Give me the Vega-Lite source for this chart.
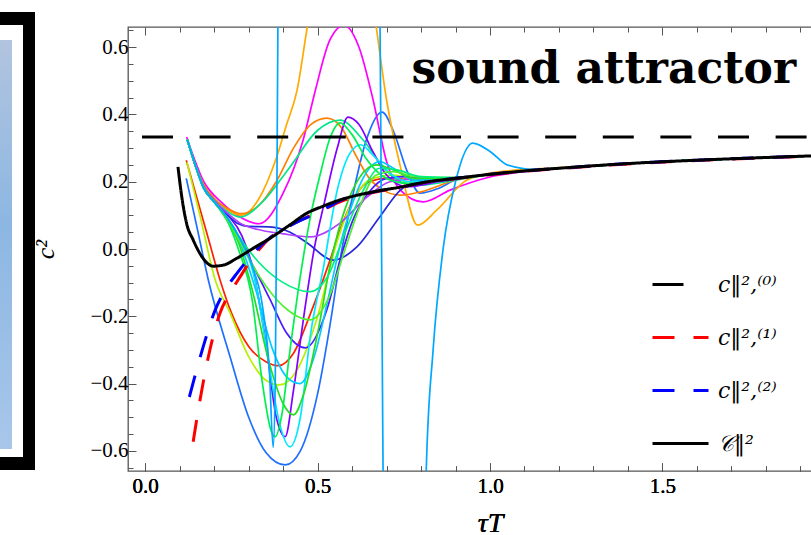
{
"$schema":"https://vega.github.io/schema/vega-lite/v6.json",
"padding":{"left":0,"top":12,"right":0,"bottom":0},
"background":"white",
"bounds":"flush",
"spacing":93,
"datasets":{
"frame":[{"part":"outer","x0":0,"x1":35,"y0":-15,"y1":443},{"part":"inner","x0":0,"x1":23,"y0":-2,"y1":430},{"part":"photo","x0":0,"x1":12,"y0":13,"y1":422}],
"rainbow":[
{"s":"red","t":[0.119,0.15,0.185,0.217,0.25,0.3,0.35,0.386,0.43,0.48,0.536,0.57,0.603,0.64,0.7,0.8,0.9,1.0,1.1,1.2,1.4,1.6,1.8,2.05],"v":[0.264,0.151,0.024,-0.092,-0.19,-0.29,-0.335,-0.347,-0.31,-0.19,-0.033,0.07,0.146,0.195,0.21,0.205,0.212,0.222,0.232,0.24,0.254,0.264,0.272,0.281]},
{"s":"yg","t":[0.121,0.16,0.203,0.246,0.3,0.35,0.39,0.44,0.5,0.55,0.6,0.66,0.72,0.8,0.9,1.0,1.1,1.2,1.4,1.6,1.8,2.05],"v":[0.258,0.094,-0.092,-0.19,-0.32,-0.39,-0.404,-0.36,-0.2,0.0,0.14,0.21,0.22,0.205,0.212,0.222,0.232,0.24,0.254,0.264,0.272,0.281]},
{"s":"blue","t":[0.119,0.15,0.183,0.246,0.3,0.35,0.406,0.45,0.5,0.54,0.565,0.6,0.64,0.687,0.72,0.76,0.797,0.85,0.9,1.0,1.1,1.2,1.4,1.6,1.8,2.05],"v":[0.21,0.065,-0.092,-0.32,-0.5,-0.605,-0.642,-0.6,-0.43,-0.2,-0.033,0.15,0.32,0.407,0.35,0.23,0.166,0.18,0.205,0.222,0.232,0.24,0.254,0.264,0.272,0.281]},
{"s":"magenta","t":[0.12,0.17,0.22,0.275,0.33,0.4,0.458,0.493,0.535,0.577,0.62,0.661,0.7,0.74,0.806,0.884,1.0,1.1,1.2,1.4,1.6,1.8,2.05],"v":[0.333,0.2,0.14,0.095,0.075,0.166,0.324,0.47,0.62,0.665,0.6,0.443,0.26,0.175,0.14,0.175,0.214,0.23,0.24,0.254,0.264,0.272,0.281]},
{"s":"lorange","t":[0.122,0.145,0.17,0.2,0.24,0.28,0.33,0.38,0.41,0.44,0.47,0.52,0.575,0.63,0.67,0.7,0.74,0.79,0.846,0.933,1.03,1.2,1.4,1.6,1.8,2.05],"v":[0.325,0.25,0.19,0.15,0.115,0.1,0.15,0.27,0.37,0.47,0.66,0.95,1.1,0.95,0.66,0.443,0.245,0.071,0.116,0.205,0.23,0.242,0.254,0.264,0.272,0.281]},
{"s":"dorange","t":[0.122,0.145,0.17,0.2,0.24,0.28,0.33,0.38,0.43,0.48,0.527,0.57,0.61,0.65,0.69,0.74,0.8,0.9,1.0,1.1,1.2,1.4,1.6,1.8,2.05],"v":[0.325,0.25,0.19,0.15,0.12,0.105,0.13,0.2,0.3,0.37,0.389,0.36,0.28,0.21,0.175,0.16,0.17,0.205,0.222,0.232,0.24,0.254,0.264,0.272,0.281]},
{"s":"teal","t":[0.122,0.145,0.17,0.2,0.24,0.275,0.34,0.42,0.5,0.565,0.632,0.69,0.74,0.8,0.9,1.0,1.1,1.2,1.4,1.6,1.8,2.05],"v":[0.325,0.25,0.185,0.145,0.11,0.095,0.14,0.244,0.353,0.383,0.324,0.244,0.2,0.19,0.205,0.222,0.232,0.24,0.254,0.264,0.272,0.281]},
{"s":"violet","t":[0.122,0.145,0.17,0.2,0.24,0.28,0.31,0.35,0.38,0.406,0.43,0.46,0.49,0.52,0.557,0.588,0.62,0.66,0.7,0.76,0.85,1.0,1.1,1.2,1.4,1.6,1.8,2.05],"v":[0.325,0.25,0.18,0.14,0.1,0.04,-0.05,-0.28,-0.5,-0.558,-0.42,-0.2,0.0,0.14,0.3,0.392,0.37,0.29,0.22,0.185,0.2,0.222,0.232,0.24,0.254,0.264,0.272,0.281]},
{"s":"bviolet","t":[0.122,0.145,0.17,0.2,0.24,0.27,0.304,0.362,0.41,0.464,0.527,0.565,0.6,0.65,0.7,0.75,0.85,1.0,1.1,1.2,1.4,1.6,1.8,2.05],"v":[0.325,0.25,0.18,0.14,0.09,0.03,-0.033,-0.15,-0.25,-0.294,-0.18,-0.033,0.08,0.17,0.21,0.215,0.21,0.222,0.232,0.24,0.254,0.264,0.272,0.281]},
{"s":"dblue","t":[0.122,0.145,0.17,0.2,0.24,0.27,0.3,0.36,0.42,0.47,0.545,0.614,0.68,0.74,0.8,0.9,1.0,1.1,1.2,1.4,1.6,1.8,2.05],"v":[0.325,0.25,0.18,0.14,0.1,0.075,0.067,0.066,0.05,0.018,-0.033,0.006,0.095,0.175,0.205,0.21,0.222,0.232,0.24,0.254,0.264,0.272,0.281]},
{"s":"purple","t":[0.122,0.145,0.17,0.2,0.24,0.275,0.34,0.4,0.478,0.565,0.643,0.71,0.8,0.9,1.0,1.1,1.2,1.4,1.6,1.8,2.05],"v":[0.325,0.25,0.185,0.145,0.105,0.077,0.055,0.045,0.036,0.077,0.154,0.2,0.21,0.212,0.222,0.232,0.24,0.254,0.264,0.272,0.281]},
{"s":"cyanA","t":[0.122,0.145,0.17,0.2,0.24,0.27,0.32,0.36,0.39,0.42,0.45,0.48,0.516,0.557,0.594,0.625,0.66,0.71,0.77,0.85,1.0,1.1,1.2,1.4,1.6,1.8,2.05],"v":[0.325,0.25,0.18,0.14,0.09,0.04,-0.1,-0.35,-0.52,-0.588,-0.5,-0.25,-0.06,0.175,0.285,0.31,0.28,0.225,0.2,0.205,0.222,0.232,0.24,0.254,0.264,0.272,0.281]},
{"s":"cyanB","t":[0.122,0.145,0.17,0.2,0.24,0.27,0.32,0.37,0.41,0.449,0.49,0.53,0.57,0.61,0.65,0.68,0.72,0.78,0.9,1.0,1.1,1.2,1.4,1.6,1.8,2.05],"v":[0.325,0.25,0.18,0.14,0.085,0.03,-0.12,-0.3,-0.38,-0.4,-0.32,-0.15,0.03,0.16,0.24,0.26,0.24,0.205,0.21,0.222,0.232,0.24,0.254,0.264,0.272,0.281]},
{"s":"green","t":[0.122,0.145,0.17,0.2,0.24,0.27,0.31,0.36,0.4,0.43,0.46,0.5,0.54,0.58,0.62,0.67,0.72,0.78,0.9,1.0,1.1,1.2,1.4,1.6,1.8,2.05],"v":[0.325,0.25,0.18,0.14,0.08,0.02,-0.12,-0.34,-0.46,-0.493,-0.43,-0.25,-0.03,0.12,0.21,0.25,0.235,0.21,0.21,0.222,0.232,0.24,0.254,0.264,0.272,0.281]},
{"s":"green2","t":[0.122,0.145,0.17,0.2,0.24,0.27,0.31,0.34,0.365,0.377,0.395,0.42,0.45,0.48,0.507,0.536,0.565,0.6,0.64,0.7,0.76,0.85,1.0,1.1,1.2,1.4,1.6,1.8,2.05],"v":[0.325,0.25,0.18,0.14,0.08,0.0,-0.15,-0.4,-0.54,-0.558,-0.5,-0.3,-0.08,0.1,0.22,0.33,0.375,0.34,0.27,0.21,0.195,0.205,0.222,0.232,0.24,0.254,0.264,0.272,0.281]},
{"s":"green3","t":[0.122,0.145,0.17,0.2,0.24,0.27,0.33,0.4,0.478,0.53,0.58,0.62,0.67,0.72,0.78,0.9,1.0,1.1,1.2,1.4,1.6,1.8,2.05],"v":[0.325,0.25,0.18,0.14,0.085,0.03,-0.08,-0.17,-0.211,-0.15,0.0,0.12,0.22,0.23,0.215,0.212,0.222,0.232,0.24,0.254,0.264,0.272,0.281]},
{"s":"green4","t":[0.122,0.145,0.17,0.2,0.24,0.27,0.33,0.4,0.478,0.53,0.58,0.63,0.68,0.73,0.8,0.9,1.0,1.1,1.2,1.4,1.6,1.8,2.05],"v":[0.325,0.25,0.18,0.14,0.09,0.04,-0.04,-0.1,-0.127,-0.08,0.05,0.17,0.24,0.235,0.215,0.212,0.222,0.232,0.24,0.254,0.264,0.272,0.281]},
{"s":"lblue","t":[0.122,0.145,0.17,0.2,0.24,0.27,0.31,0.34,0.36,0.371,0.377,0.382,0.388,0.42,0.53,0.64,0.677,0.683,0.688,0.695,0.75,0.805,0.815,0.835,0.864,0.9,0.95,1.0,1.05,1.125,1.2,1.4,1.6,1.8,2.05],"v":[0.325,0.25,0.18,0.14,0.09,0.04,-0.05,-0.17,-0.36,-0.59,-0.4,0.2,1.2,3.5,5,3.5,1.2,0.4,-0.4,-1.3,-3.5,-1.3,-0.66,-0.3,0.0,0.2,0.315,0.29,0.25,0.237,0.24,0.254,0.264,0.272,0.281]}
],
"special":[
{"s":"c0","t":[-0.05,2.05],"v":[0.3333,0.3333]},
{"s":"c1","t":[0.139,0.159,0.183,0.217,0.246,0.275,0.313,0.362,0.406,0.47,0.516,0.565,0.66,0.74,0.82,0.9,1.0,1.1,1.2,1.4,1.6,1.8,2.05],"v":[-0.573,-0.448,-0.321,-0.19,-0.131,-0.083,-0.024,0.033,0.062,0.095,0.116,0.14,0.168,0.183,0.199,0.209,0.221,0.231,0.239,0.253,0.263,0.271,0.28]},
{"s":"c2","t":[0.128,0.168,0.203,0.232,0.267,0.304,0.354,0.4,0.45,0.5,0.565,0.66,0.74,0.82,0.9,1.0,1.1,1.2,1.4,1.6,1.8,2.05],"v":[-0.44,-0.291,-0.181,-0.122,-0.071,-0.024,0.027,0.058,0.085,0.108,0.144,0.169,0.184,0.2,0.21,0.222,0.232,0.24,0.254,0.264,0.272,0.281]},
{"s":"C","t":[0.095,0.106,0.12,0.139,0.168,0.197,0.226,0.265,0.313,0.362,0.42,0.468,0.515,0.565,0.661,0.74,0.82,0.9,1.0,1.1,1.2,1.4,1.6,1.8,2.05],"v":[0.244,0.155,0.076,0.027,-0.028,-0.051,-0.048,-0.028,0.002,0.032,0.072,0.106,0.127,0.146,0.17,0.184,0.2,0.21,0.222,0.232,0.24,0.254,0.264,0.272,0.281]}
]
},
"hconcat":[
{
"width":35,"height":444,"view":{"stroke":null},
"data":{"name":"frame"},
"layer":[
{"transform":[{"filter":"datum.part=='outer'"}],"mark":{"type":"rect","color":"#000000"},
"encoding":{"x":{"field":"x0","type":"quantitative","scale":{"domain":[0,35],"nice":false,"zero":false},"axis":null},"x2":{"field":"x1"},"y":{"field":"y0","type":"quantitative","scale":{"domain":[0,444],"nice":false,"zero":false,"reverse":true},"axis":null},"y2":{"field":"y1"}}},
{"transform":[{"filter":"datum.part=='inner'"}],"mark":{"type":"rect","color":"#ffffff"},
"encoding":{"x":{"field":"x0","type":"quantitative","scale":{"domain":[0,35],"nice":false,"zero":false},"axis":null},"x2":{"field":"x1"},"y":{"field":"y0","type":"quantitative","scale":{"domain":[0,444],"nice":false,"zero":false,"reverse":true},"axis":null},"y2":{"field":"y1"}}},
{"transform":[{"filter":"datum.part=='photo'"}],"mark":{"type":"rect","color":{"gradient":"linear","x1":0,"y1":0,"x2":0,"y2":1,"stops":[{"offset":0,"color":"#b2c4df"},{"offset":0.45,"color":"#8cb7e2"},{"offset":1,"color":"#a8c6ea"}]}},
"encoding":{"x":{"field":"x0","type":"quantitative","scale":{"domain":[0,35],"nice":false,"zero":false},"axis":null},"x2":{"field":"x1"},"y":{"field":"y0","type":"quantitative","scale":{"domain":[0,444],"nice":false,"zero":false,"reverse":true},"axis":null},"y2":{"field":"y1"}}}
]
},
{
"width":724,"height":444,
"layer":[
{"data":{"name":"rainbow"},"transform":[{"flatten":["t","v"]}],
"mark":{"type":"line","interpolate":"monotone","strokeWidth":1.7,"clip":true},
"encoding":{
"x":{"field":"t","type":"quantitative","scale":{"domain":[-0.05,2.05],"nice":false,"zero":false},"axis":{"orient":"bottom","values":[0,0.1,0.2,0.3,0.4,0.5,0.6,0.7,0.8,0.9,1,1.1,1.2,1.3,1.4,1.5,1.6,1.7,1.8,1.9,2.0],"labelExpr":"(abs(datum.value*2-round(datum.value*2))<0.01 && datum.value<1.9) ? format(datum.value,'.1f') : ''","tickSize":{"condition":{"test":"abs(datum.value*2-round(datum.value*2))<0.01","value":-8},"value":-5},"labelPadding":12,"title":"τT","titleFontSize":28,"titlePadding":13}},
"y":{"field":"v","type":"quantitative","scale":{"domain":[-0.66,0.66],"nice":false,"zero":false},"axis":{"values":[-0.65,-0.6,-0.55,-0.5,-0.45,-0.4,-0.35,-0.3,-0.25,-0.2,-0.15,-0.1,-0.05,0,0.05,0.1,0.15,0.2,0.25,0.3,0.35,0.4,0.45,0.5,0.55,0.6,0.65],"labelExpr":"abs(datum.value*5-round(datum.value*5))<0.01 ? format(datum.value,'.1f') : ''","tickSize":{"condition":{"test":"abs(datum.value*5-round(datum.value*5))<0.01","value":-8},"value":-5},"labelPadding":8,"title":"c²","titleFontSize":26,"titlePadding":31}},
"stroke":{"field":"s","type":"nominal","scale":{"domain":["red","yg","blue","magenta","lorange","dorange","teal","violet","bviolet","dblue","purple","cyanA","cyanB","green","green2","green3","green4","lblue"],"range":["#ff2200","#b8f000","#1f6fff","#ff00ff","#ffaa00","#ff7f00","#00e68c","#8000ff","#4b1cff","#2828dd","#b040ff","#00e8ff","#00ccff","#22dd22","#00f050","#50f030","#00f080","#00a8ff"]},"legend":null}
}},
{"data":{"name":"special"},"transform":[{"flatten":["t","v"]},{"filter":"datum.s=='c1' || datum.s=='c2'"}],
"mark":{"type":"line","interpolate":"monotone","strokeWidth":3,"clip":true},
"encoding":{
"x":{"field":"t","type":"quantitative","scale":{"domain":[-0.05,2.05],"nice":false,"zero":false},"axis":{"orient":"top","values":[0,0.1,0.2,0.3,0.4,0.5,0.6,0.7,0.8,0.9,1,1.1,1.2,1.3,1.4,1.5,1.6,1.7,1.8,1.9,2.0],"labels":false,"tickSize":{"condition":{"test":"abs(datum.value*2-round(datum.value*2))<0.01","value":-8},"value":-5},"title":null}},
"y":{"field":"v","type":"quantitative","scale":{"domain":[-0.66,0.66],"nice":false,"zero":false},"axis":{"values":[-0.65,-0.6,-0.55,-0.5,-0.45,-0.4,-0.35,-0.3,-0.25,-0.2,-0.15,-0.1,-0.05,0,0.05,0.1,0.15,0.2,0.25,0.3,0.35,0.4,0.45,0.5,0.55,0.6,0.65],"labelExpr":"abs(datum.value*5-round(datum.value*5))<0.01 ? format(datum.value,'.1f') : ''","tickSize":{"condition":{"test":"abs(datum.value*5-round(datum.value*5))<0.01","value":-8},"value":-5},"labelPadding":8,"title":"c²","titleFontSize":26,"titlePadding":31}},
"color":{"field":"s","type":"nominal","scale":{"domain":["c0","c1","c2","C"],"range":["#000000","#ff0000","#0000ff","#000000"]},"legend":{"title":null,"orient":"none","legendX":651,"legendY":228,"symbolType":"stroke","symbolSize":3136,"symbolStrokeWidth":3,"labelFont":"DejaVu Serif","labelFontStyle":"italic","labelFontSize":22,"labelColor":"#000","labelOffset":8,"rowPadding":12,"padding":0,"labelExpr":"datum.value=='c0' ? 'c‖²,⁽⁰⁾' : datum.value=='c1' ? 'c‖²,⁽¹⁾' : datum.value=='c2' ? 'c‖²,⁽²⁾' : '𝒞‖²'","encode":{"symbols":{"update":{"strokeDash":{"signal":"datum.value=='c0' ? [22,16] : datum.value=='C' ? [1,0] : [13,6]"}}}}}},
"strokeDash":{"field":"s","type":"nominal","scale":{"domain":["c0","c1","c2","C"],"range":[[31,26.6],[22,19],[22,19],[1,0]]},"legend":{"title":null,"orient":"none","legendX":651,"legendY":228,"symbolType":"stroke","symbolSize":3136,"symbolStrokeWidth":3,"labelFont":"DejaVu Serif","labelFontStyle":"italic","labelFontSize":22,"labelColor":"#000","labelOffset":8,"rowPadding":12,"padding":0,"labelExpr":"datum.value=='c0' ? 'c‖²,⁽⁰⁾' : datum.value=='c1' ? 'c‖²,⁽¹⁾' : datum.value=='c2' ? 'c‖²,⁽²⁾' : '𝒞‖²'","encode":{"symbols":{"update":{"strokeDash":{"signal":"datum.value=='c0' ? [22,16] : datum.value=='C' ? [1,0] : [13,6]"}}}}}}
}},
{"data":{"name":"special"},"transform":[{"flatten":["t","v"]},{"filter":"datum.s=='c0' || datum.s=='C'"}],
"mark":{"type":"line","interpolate":"monotone","strokeWidth":3,"clip":true,"strokeDashOffset":43.6},
"encoding":{
"x":{"field":"t","type":"quantitative","scale":{"domain":[-0.05,2.05],"nice":false,"zero":false},"axis":{"orient":"bottom","values":[0,0.1,0.2,0.3,0.4,0.5,0.6,0.7,0.8,0.9,1,1.1,1.2,1.3,1.4,1.5,1.6,1.7,1.8,1.9,2.0],"labelExpr":"(abs(datum.value*2-round(datum.value*2))<0.01 && datum.value<1.9) ? format(datum.value,'.1f') : ''","tickSize":{"condition":{"test":"abs(datum.value*2-round(datum.value*2))<0.01","value":-8},"value":-5},"labelPadding":12,"title":"τT","titleFontSize":28,"titlePadding":13}},
"y":{"field":"v","type":"quantitative","scale":{"domain":[-0.66,0.66],"nice":false,"zero":false},"axis":{"values":[-0.65,-0.6,-0.55,-0.5,-0.45,-0.4,-0.35,-0.3,-0.25,-0.2,-0.15,-0.1,-0.05,0,0.05,0.1,0.15,0.2,0.25,0.3,0.35,0.4,0.45,0.5,0.55,0.6,0.65],"labelExpr":"abs(datum.value*5-round(datum.value*5))<0.01 ? format(datum.value,'.1f') : ''","tickSize":{"condition":{"test":"abs(datum.value*5-round(datum.value*5))<0.01","value":-8},"value":-5},"labelPadding":8,"title":"c²","titleFontSize":26,"titlePadding":31}},
"color":{"field":"s","type":"nominal","scale":{"domain":["c0","c1","c2","C"],"range":["#000000","#ff0000","#0000ff","#000000"]},"legend":{"title":null,"orient":"none","legendX":651,"legendY":228,"symbolType":"stroke","symbolSize":3136,"symbolStrokeWidth":3,"labelFont":"DejaVu Serif","labelFontStyle":"italic","labelFontSize":22,"labelColor":"#000","labelOffset":8,"rowPadding":12,"padding":0,"labelExpr":"datum.value=='c0' ? 'c‖²,⁽⁰⁾' : datum.value=='c1' ? 'c‖²,⁽¹⁾' : datum.value=='c2' ? 'c‖²,⁽²⁾' : '𝒞‖²'","encode":{"symbols":{"update":{"strokeDash":{"signal":"datum.value=='c0' ? [22,16] : datum.value=='C' ? [1,0] : [13,6]"}}}}}},
"strokeDash":{"field":"s","type":"nominal","scale":{"domain":["c0","c1","c2","C"],"range":[[31,26.6],[22,19],[22,19],[1,0]]},"legend":{"title":null,"orient":"none","legendX":651,"legendY":228,"symbolType":"stroke","symbolSize":3136,"symbolStrokeWidth":3,"labelFont":"DejaVu Serif","labelFontStyle":"italic","labelFontSize":22,"labelColor":"#000","labelOffset":8,"rowPadding":12,"padding":0,"labelExpr":"datum.value=='c0' ? 'c‖²,⁽⁰⁾' : datum.value=='c1' ? 'c‖²,⁽¹⁾' : datum.value=='c2' ? 'c‖²,⁽²⁾' : '𝒞‖²'","encode":{"symbols":{"update":{"strokeDash":{"signal":"datum.value=='c0' ? [22,16] : datum.value=='C' ? [1,0] : [13,6]"}}}}}}
}},
{"data":{"values":[{"label":"sound attractor","t":1.33,"v":0.4935}]},
"mark":{"type":"text","font":"DejaVu Serif","fontWeight":"bold","fontSize":44,"align":"center","baseline":"alphabetic","color":"#000000"},
"encoding":{
"x":{"field":"t","type":"quantitative","scale":{"domain":[-0.05,2.05],"nice":false,"zero":false},"axis":{"orient":"bottom","values":[0,0.1,0.2,0.3,0.4,0.5,0.6,0.7,0.8,0.9,1,1.1,1.2,1.3,1.4,1.5,1.6,1.7,1.8,1.9,2.0],"labelExpr":"(abs(datum.value*2-round(datum.value*2))<0.01 && datum.value<1.9) ? format(datum.value,'.1f') : ''","tickSize":{"condition":{"test":"abs(datum.value*2-round(datum.value*2))<0.01","value":-8},"value":-5},"labelPadding":12,"title":"τT","titleFontSize":28,"titlePadding":13}},
"y":{"field":"v","type":"quantitative","scale":{"domain":[-0.66,0.66],"nice":false,"zero":false},"axis":{"values":[-0.65,-0.6,-0.55,-0.5,-0.45,-0.4,-0.35,-0.3,-0.25,-0.2,-0.15,-0.1,-0.05,0,0.05,0.1,0.15,0.2,0.25,0.3,0.35,0.4,0.45,0.5,0.55,0.6,0.65],"labelExpr":"abs(datum.value*5-round(datum.value*5))<0.01 ? format(datum.value,'.1f') : ''","tickSize":{"condition":{"test":"abs(datum.value*5-round(datum.value*5))<0.01","value":-8},"value":-5},"labelPadding":8,"title":"c²","titleFontSize":26,"titlePadding":31}},
"text":{"field":"label"}
}}
]
}
],
"config":{
"view":{"stroke":"#555555","strokeWidth":1.3},
"axis":{"grid":false,"domain":false,"labelFont":"Liberation Serif","labelFontSize":21,"labelColor":"#000000","tickColor":"#555555","tickWidth":1,"titleFont":"Liberation Serif","titleFontStyle":"italic","titleFontWeight":"normal","titleColor":"#000000","labelFlush":false}
}
}
